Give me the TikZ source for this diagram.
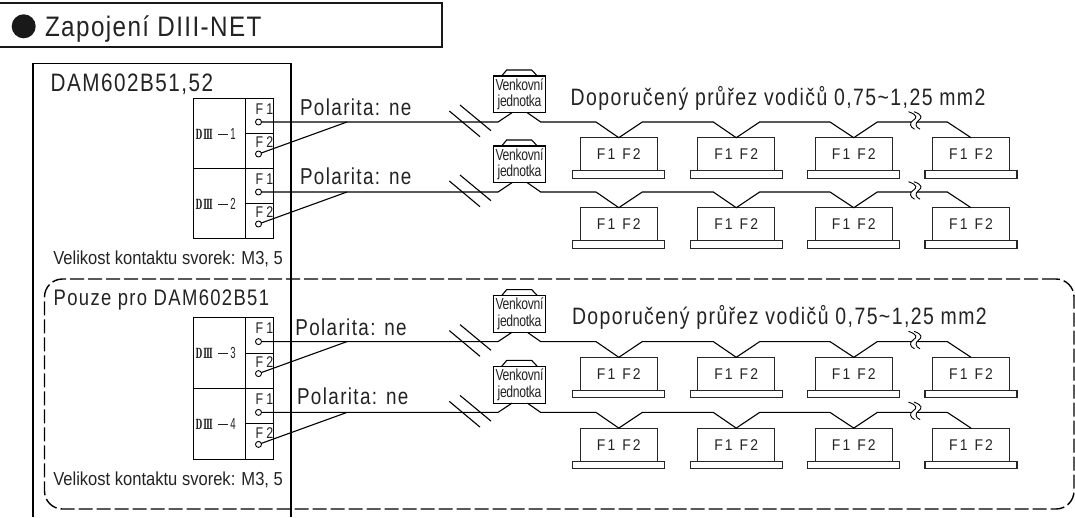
\documentclass[tikz,border=0pt]{standalone}
\usepackage{fontspec}
\setmainfont{Liberation Sans}
\newfontfamily\titlef[FakeStretch=0.86,LetterSpace=5]{Liberation Sans}
\newfontfamily\bigf[FakeStretch=0.82,LetterSpace=6]{Liberation Sans}
\newfontfamily\narf[FakeStretch=0.88]{Liberation Sans}
\newfontfamily\tinyf[FakeStretch=0.76,LetterSpace=-2]{Liberation Sans}
\newfontfamily\fontf[FakeStretch=0.9,LetterSpace=14]{Liberation Sans}
\newfontfamily\termf[FakeStretch=0.8,LetterSpace=20]{Liberation Sans}
\newfontfamily\romf[FakeStretch=0.55]{DejaVu Serif Bold}
\newfontfamily\digf[FakeStretch=0.6]{Liberation Sans}
\definecolor{ink}{HTML}{232323}
\tikzset{
  cell/.style={draw=black,line width=1pt,inner sep=0,outer sep=0,anchor=north west},
  iu/.style={draw=black!85,line width=1.1pt,inner sep=0,outer sep=0,minimum width=77pt,minimum height=33pt,text=ink,font=\fontf\fontsize{15.5}{16}\selectfont},
  iubase/.style={draw=black!85,line width=1.1pt,inner sep=0,outer sep=0,minimum width=92pt,minimum height=7.6pt},
  outd/.style={draw=black,line width=1.1pt,inner sep=0,outer sep=0,minimum width=52.4pt,minimum height=36.7pt,align=center,text=ink,font=\tinyf\fontsize{16}{16.7}\selectfont},
  term/.style={circle,draw=black,line width=0.9pt,minimum size=6pt,inner sep=0,outer sep=0,fill=white},
  wire/.style={draw=black,line width=1.1pt},
  lbl/.style={anchor=base west,inner sep=0,outer sep=0,text=ink},
  poltext/.style={lbl,font=\bigf\fontsize{23}{25}\selectfont},
  doptext/.style={lbl,font=\bigf\fontsize{23.7}{25}\selectfont},
  smalltext/.style={lbl,font=\narf\fontsize{18.8}{20}\selectfont},
  ftext/.style={lbl,font=\termf\fontsize{15.5}{16}\selectfont},
  dtext/.style={lbl,font=\romf\fontsize{14}{15}\selectfont}
}
% #1 name, #2 y offset, #3 Polarita x, #4 Polarita baseline (relative), #5 label
\newcommand{\netrow}[5]{%
\begin{scope}[shift={(0,#2)}]
  \node[cell,minimum width=52pt,minimum height=70.7pt] (#1-d) at (193.5,98) {};
  \node[cell,minimum width=27.5pt,minimum height=35.5pt] (#1-f1) at (245.5,98) {};
  \node[cell,minimum width=27.5pt,minimum height=35.2pt] (#1-f2) at (245.5,133.5) {};
  \node[dtext] (#1-dl) at (195.7,139.3) {D\hspace{1pt}Ⅲ\hspace{5pt}\raisebox{0.32em}{\rule{10pt}{1pt}}\hspace{2.5pt}\digf\fontsize{16}{16}\selectfont #5};
  \node[ftext] (#1-f1l) at (255.7,114.3) {F1};
  \node[ftext] (#1-f2l) at (255.7,147.7) {F2};
  \node[term] (#1-t1) at (258.5,122) {};
  \node[term] (#1-t2) at (258.5,154) {};
  \node[poltext] (#1-pol) at (#3,#4) {Polarita: ne};
  \coordinate (#1-j) at (347,122);
  \draw[wire] (#1-t2) -- (#1-j);
  \node[outd] (#1-o) at (519.5,94.35) {Venkovní\\jednotka};
  \coordinate (#1-a1) at (501.7,76);\coordinate (#1-a2) at (506.7,70);
  \coordinate (#1-a3) at (531.7,70);\coordinate (#1-a4) at (537.3,76);
  \draw[wire] (#1-a1) -- (#1-a2) -- (#1-a3) -- (#1-a4);
  \foreach \i/\x in {1/618.8,2/736.2,3/853.8,4/971}{
    \node[iu] (#1-u\i) at (\x,154.2) {F1\hspace{7pt}F2};
    \node[iubase] (#1-b\i) at (\x,174.5) {};
  }
  \draw[wire] (#1-t1) -- (498,122) -- ([xshift=-7.5pt]#1-o.south);
  \draw[wire] ([xshift=7.8pt]#1-o.south) -- (540.7,122) -- (596,122) -- (#1-u1.north)
     -- (642.3,122) -- (713.3,122) -- (#1-u2.north)
     -- (759.7,122) -- (830,122) -- (#1-u3.north)
     -- (877.3,122) -- (947.3,122) -- (#1-u4.north);
  \fill[white] (908.5,111.7) .. controls (918,115) and (917,118) .. (913,120.5) .. controls (909,123) and (910,127) .. (914.5,129.2)
     -- (920,129.2) .. controls (915,127) and (915,123) .. (918.5,120.5) .. controls (922,118) and (923,115) .. (914,111.7) -- cycle;
  \draw[line width=0.9pt] (908.5,111.7) .. controls (918,115) and (917,118) .. (913,120.5) .. controls (909,123) and (910,127) .. (914.5,129.2);
  \draw[line width=0.9pt] (914,111.7) .. controls (923,115) and (922,118) .. (918.5,120.5) .. controls (915,123) and (915,127) .. (920,129.2);
  \coordinate (#1-s1) at (449.3,111);\coordinate (#1-s2) at (480,136.7);
  \coordinate (#1-s3) at (460,105);\coordinate (#1-s4) at (491,130.7);
  \draw[wire] (#1-s1) -- (#1-s2);
  \draw[wire] (#1-s3) -- (#1-s4);
\end{scope}}
\begin{document}
\begin{tikzpicture}[x=1pt,y=-1pt]
\useasboundingbox (0,0) rectangle (1075,517);
% title
\coordinate (tb1) at (0,3);\coordinate (tb2) at (442,3);\coordinate (tb3) at (442,47);\coordinate (tb4) at (0,47);
\draw[line width=1.5pt,draw=black!90] (tb1) -- (tb2) -- (tb3) -- (tb4);
\node[circle,fill=black!90,minimum size=24pt,inner sep=0] (dot) at (23.7,26.3) {};
\node[lbl,font=\titlef\fontsize{28.2}{30}\selectfont] (title) at (45,36.7) {Zapojení DIII-NET};
% outer box
\coordinate (ob1) at (33,517);\coordinate (ob2) at (33,63.5);\coordinate (ob3) at (291,63.5);\coordinate (ob4) at (291,517);
\draw[line width=1.1pt] (ob1) -- (ob2) -- (ob3) -- (ob4);
% dashed region
\node[draw=black,line width=1.4pt,dash pattern=on 14pt off 4pt,rounded corners=18pt,inner sep=0,outer sep=0,anchor=north west,minimum width=1029.5pt,minimum height=230pt] (dash) at (44.5,279) {};
\node[lbl,font=\bigf\fontsize{25.2}{27}\selectfont] (dam) at (50.7,91.7) {DAM602B51,52};
\node[lbl,font=\bigf\fontsize{22.5}{24}\selectfont] (pouze) at (53.7,305.7) {Pouze pro DAM602B51};
\node[smalltext] (vel1) at (53.3,264) {Velikost kontaktu svorek: M3, 5};
\node[smalltext] (vel2) at (53.3,485.3) {Velikost kontaktu svorek: M3, 5};
\netrow{r1}{0}{300}{115}{1}
\netrow{r2}{70}{300}{114}{2}
\netrow{r3}{219.6}{295.3}{115.4}{3}
\netrow{r4}{290.4}{297}{113.6}{4}
\node[doptext] (dop1) at (570.7,105.7) {Doporučený průřez vodičů 0,75\char`\~1,25 mm2};
\node[doptext] (dop2) at (572,324.3) {Doporučený průřez vodičů 0,75\char`\~1,25 mm2};
\end{tikzpicture}
\end{document}
